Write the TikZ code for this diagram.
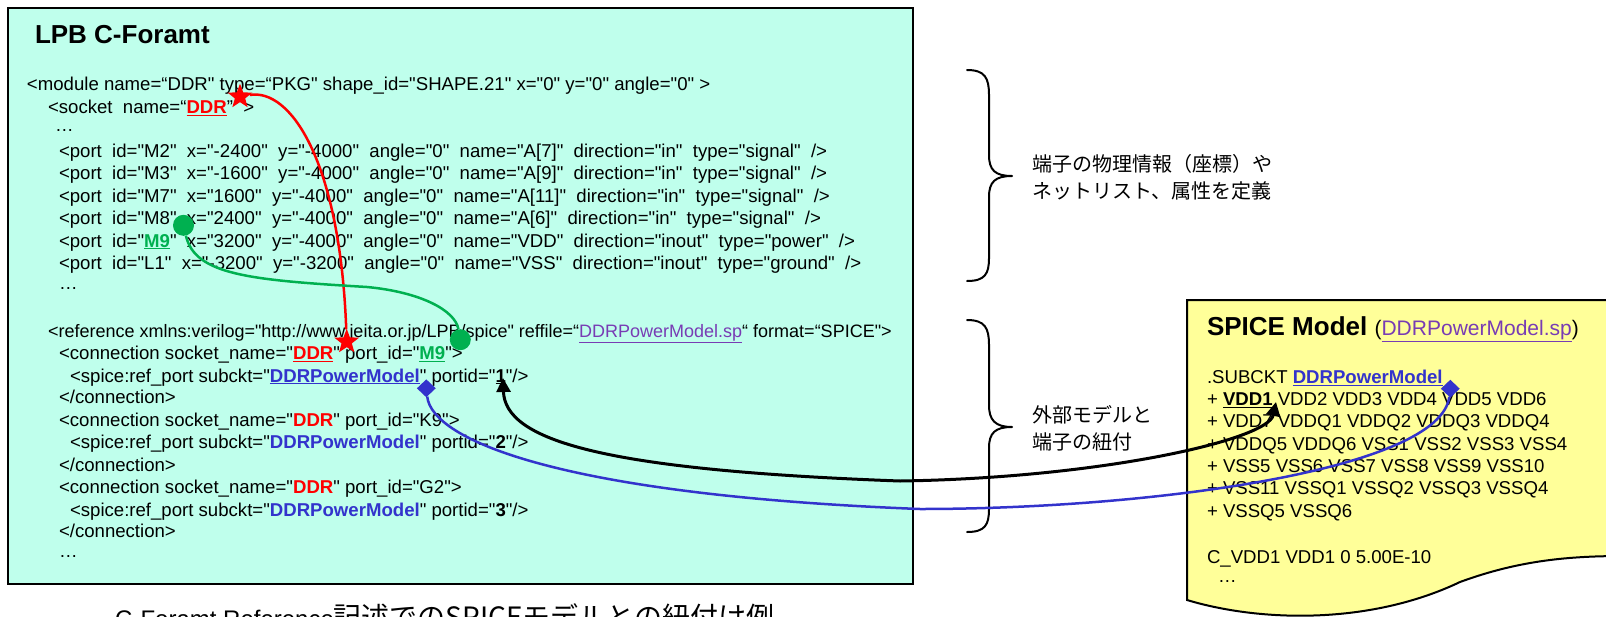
\documentclass[tikz,border=0pt]{standalone}
\usepackage{fontspec}
\setmainfont{Liberation Sans}[Ligatures=TeXOff]
\newfontfamily\jp{Noto Sans CJK JP}
\usetikzlibrary{shapes.geometric,arrows.meta}
\definecolor{boxcyan}{RGB}{191,255,236}
\definecolor{docyellow}{RGB}{255,255,153}
\definecolor{cred}{RGB}{255,0,0}
\definecolor{cgreen}{RGB}{0,176,80}
\definecolor{cblue}{RGB}{51,51,204}
\definecolor{clink}{RGB}{120,60,180}
\newcommand\fs[1]{\fontsize{#1}{#1}\selectfont}
\newcommand\rd[1]{{\color{cred}\textbf{#1}}}
\newcommand\rdu[1]{{\color{cred}\underline{\textbf{#1}}}}
\newcommand\gnu[1]{{\color{cgreen}\underline{\textbf{#1}}}}
\newcommand\bl[1]{{\color{cblue}\textbf{#1}}}
\newcommand\blu[1]{{\color{cblue}\underline{\textbf{#1}}}}
\newcommand\lk[1]{{\color{clink}\underline{#1}}}
\tikzset{
  code/.style={anchor=base west, inner sep=0pt, outer sep=0pt, font=\fs{18.6}},
  ttl/.style={anchor=base west, inner sep=0pt, outer sep=0pt, font=\fs{26}},
  jlabel/.style={anchor=base west, inner sep=0pt, outer sep=0pt, font=\jp\fs{20}},
  bracestyle/.style={line width=2pt, line cap=round, line join=round},
  redstar/.style={star, star points=5, star point ratio=2.4, fill=cred, draw=none, minimum size=26pt, inner sep=0pt},
  gdot/.style={circle, fill=cgreen, draw=none, minimum size=21pt, inner sep=0pt},
  bdia/.style={diamond, fill=cblue, draw=none, minimum width=19pt, minimum height=18pt, inner sep=0pt},
  conn/.style={line width=2.5pt},
  tip/.style={{Triangle[length=14pt,width=14pt]}-{Triangle[length=14pt,width=14pt]}},
}
\begin{document}
\begin{tikzpicture}[x=1pt,y=-1pt]
\useasboundingbox (0,0) rectangle (1606,616);
% main box
\node[draw=black, line width=2pt, fill=boxcyan, minimum width=905pt, minimum height=576pt, anchor=north west, inner sep=0pt] (lpb) at (7,7) {};
% spice document
\draw[line width=2pt, fill=docyellow] (1187,300) -- (1625,300) -- (1625,556)
  .. controls (1570,556) and (1520,560) .. (1460,582)
  .. controls (1370,625) and (1260,622) .. (1187,600) -- cycle;
% titles
\node[ttl] (lpbtitle) at (35,43.3) {\textbf{LPB C-Foramt}};
\node[ttl] (spicetitle) at (1207,335) {\textbf{SPICE Model} {\fs{21}(\lk{DDRPowerModel.sp})}};
% LPB code
\node[code] (mod) at (27,90) {<module name=“DDR" type=“PKG" shape\_id="SHAPE.21" x="0" y="0" angle="0" >};
\node[code] (sock) at (48,113.5) {<socket~ name=“\rdu{DDR}”~ >};
\node[code] (dotsa) at (55,131) {…};
\node[code] (pM2) at (59,157) {<port~ id="M2"~ x="-2400"~ y="-4000"~ angle="0"~ name="A[7]"~ direction="in"~ type="signal"~ />};
\node[code] (pM3) at (59,179.7) {<port~ id="M3"~ x="-1600"~ y="-4000"~ angle="0"~ name="A[9]"~ direction="in"~ type="signal"~ />};
\node[code] (pM7) at (59,202) {<port~ id="M7"~ x="1600"~ y="-4000"~ angle="0"~ name="A[11]"~ direction="in"~ type="signal"~ />};
\node[code] (pM8) at (59,224.7) {<port~ id="M8"~ x="2400"~ y="-4000"~ angle="0"~ name="A[6]"~ direction="in"~ type="signal"~ />};
\node[code] (pM9) at (59,247) {<port~ id="\gnu{M9}"~ x="3200"~ y="-4000"~ angle="0"~ name="VDD"~ direction="inout"~ type="power"~ />};
\node[code] (pL1) at (59,269.7) {<port~ id="L1"~ x="-3200"~ y="-3200"~ angle="0"~ name="VSS"~ direction="inout"~ type="ground"~ />};
\node[code] (dotsb) at (59,289) {…};
\node[code, font=\fs{18}] (ref) at (48,337) {<reference xmlns:verilog="http://www.jeita.or.jp/LPB/spice" reffile=“\lk{DDRPowerModel.sp}“ format=“SPICE">};
\node[code] (c1) at (59,359.3) {<connection socket\_name="\rdu{DDR}" port\_id="\gnu{M9}">};
\node[code] (r1) at (70,382) {<spice:ref\_port subckt="\blu{DDRPowerModel}" portid="\underline{\textbf{1}}"/>};
\node[code] (e1) at (59,403.7) {</connection>};
\node[code] (c2) at (59,426.3) {<connection socket\_name="\rd{DDR}" port\_id="K9">};
\node[code] (r2) at (70,448.7) {<spice:ref\_port subckt="\bl{DDRPowerModel}" portid="\textbf{2}"/>};
\node[code] (e2) at (59,471) {</connection>};
\node[code] (c3) at (59,493.7) {<connection socket\_name="\rd{DDR}" port\_id="G2">};
\node[code] (r3) at (70,516) {<spice:ref\_port subckt="\bl{DDRPowerModel}" portid="\textbf{3}"/>};
\node[code] (e3) at (59,537.7) {</connection>};
\node[code] (dotsc) at (59,557) {…};
% SPICE code
\node[code] (sub) at (1207,383.7) {.SUBCKT \blu{DDRPowerModel}};
\node[code] (sl1) at (1207,405.3) {+ \underline{\textbf{VDD1}} VDD2 VDD3 VDD4 VDD5 VDD6};
\node[code] (sl2) at (1207,427.7) {+ VDD7 VDDQ1 VDDQ2 VDDQ3 VDDQ4};
\node[code] (sl3) at (1207,450.3) {+ VDDQ5 VDDQ6 VSS1 VSS2 VSS3 VSS4};
\node[code] (sl4) at (1207,472) {+ VSS5 VSS6 VSS7 VSS8 VSS9 VSS10};
\node[code] (sl5) at (1207,494.3) {+ VSS11 VSSQ1 VSSQ2 VSSQ3 VSSQ4};
\node[code] (sl6) at (1207,517) {+ VSSQ5 VSSQ6};
\node[code] (cv) at (1207,563) {C\_VDD1 VDD1 0 5.00E-10};
\node[code] (dotsd) at (1218,582) {…};
% braces
\draw[bracestyle] (967,70) .. controls (985,70) and (989,78) .. (989,95) -- (989,155)
  .. controls (989,170) and (995,176) .. (1012,176)
  .. controls (995,176) and (989,182) .. (989,197) -- (989,258)
  .. controls (989,274) and (985,281) .. (967,281);
\draw[bracestyle] (967,320) .. controls (985,320) and (989,328) .. (989,345) -- (989,405)
  .. controls (989,420) and (995,427) .. (1012,427)
  .. controls (995,427) and (989,433) .. (989,448) -- (989,509)
  .. controls (989,525) and (985,532) .. (967,532);
\node[jlabel] (ja1) at (1032,171) {端子の物理情報（座標）や};
\node[jlabel] (ja2) at (1032,198) {ネットリスト、属性を定義};
\node[jlabel] (jb1) at (1032,422.5) {外部モデルと};
\node[jlabel] (jb2) at (1032,449) {端子の紐付};
% caption
\node[anchor=base west, inner sep=0pt] (cap) at (115,627) {{\fs{24}C-Foramt Reference}{\jp\fs{28}記述でのSPICEモデルとの紐付け例}};
% markers
\node[redstar] (s1) at (240,96.7) {};
\node[redstar] (s2) at (346.7,341.7) {};
\node[gdot] (g1) at (183.5,225.3) {};
\node[gdot] (g2) at (460.3,339.7) {};
\node[bdia] (d1) at (426.3,388.3) {};
\node[bdia] (d2) at (1450.3,388.7) {};
\coordinate (t1) at (503,378);
\coordinate (t2) at (1276,402);
% connectors
\draw[conn, cred] (s1) .. controls (290,88) and (340,160) .. (s2);
\draw[conn, cgreen] (g1) .. controls (195,275) and (250,280) .. (367,287)
  .. controls (420,292) and (455,310) .. (g2);
\draw[conn, cblue] (d1) .. controls (432,440) and (560,495) .. (920,509)
  .. controls (1150,509) and (1440,470) .. (d2);
\draw[line width=3pt, black, tip] (t1) .. controls (505,440) and (600,470) .. (900,481)
  .. controls (1100,478) and (1268,440) .. (t2);
\end{tikzpicture}
\end{document}
